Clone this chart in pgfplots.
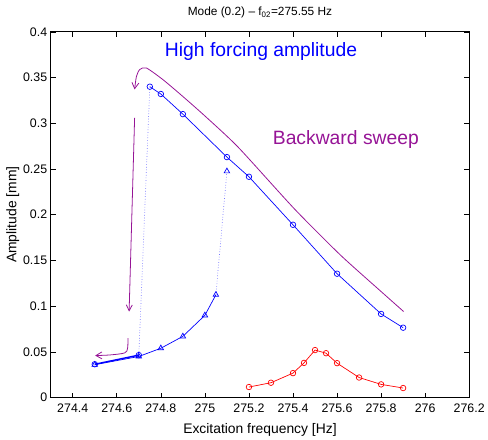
\documentclass[border=0pt]{standalone}
\usepackage{fontspec}
\setmainfont{Liberation Sans}
\usepackage{pgfplots}
\pgfplotsset{compat=1.18}
\usetikzlibrary{arrows.meta}
\definecolor{sweep}{RGB}{150,20,150}
\definecolor{dotblue}{RGB}{120,120,255}

\begin{document}
\begin{tikzpicture}
\begin{axis}[
  scale only axis, width=421bp, height=368bp,
  xmin=274.3, xmax=276.2, ymin=0, ymax=0.4,
  xtick={274.4,274.6,274.8,275,275.2,275.4,275.6,275.8,276,276.2},
  xticklabels={274.4,274.6,274.8,275,275.2,275.4,275.6,275.8,276,276.2},
  ytick={0,0.05,0.1,0.15,0.2,0.25,0.3,0.35,0.4},
  yticklabels={0,0.05,0.1,0.15,0.2,0.25,0.3,0.35,0.4},
  tick align=inside, tick pos=both, major tick length=5bp,
  axis line style={line width=0.8pt}, every tick/.style={black, line width=0.6pt},
  tick label style={font=\fontsize{12.5}{14}\selectfont},
  xticklabel style={yshift=-3bp},
  label style={font=\fontsize{14}{16}\selectfont},
  xlabel={Excitation frequency [Hz]}, ylabel={Amplitude [mm]},
  title={Mode (0.2) -- f\textsubscript{02}=275.55 Hz},
  title style={font=\fontsize{12}{14}\selectfont, at={(0.5,1)}, anchor=south, yshift=4bp},
  xlabel style={yshift=-4bp}, ylabel style={yshift=-3bp},
  clip=false
]
% backward sweep, circles
\addplot[blue, line width=0.7pt, mark=o, mark size=2.8pt] coordinates {
 (275.9,0.0765) (275.8,0.0915) (275.6,0.1355) (275.4,0.189) (275.2,0.2415)
 (275.1,0.263) (274.9,0.310) (274.8,0.332) (274.75,0.340)};
\addplot[dotblue, dotted, line width=0.7pt] coordinates {(274.75,0.340) (274.7,0.046)};
\addplot[blue, line width=1.4pt, mark=o, mark size=2.8pt, mark options={line width=0.7pt}] coordinates {
 (274.7,0.0465) (274.5,0.0365)};
% forward sweep, triangles
\addplot[blue, line width=0.7pt, mark=triangle, mark size=3.2pt] coordinates {
 (274.5,0.036) (274.7,0.045) (274.8,0.054) (274.9,0.067) (275.0,0.090) (275.05,0.1125)};
\addplot[dotblue, dotted, line width=0.7pt] coordinates {(275.05,0.1125) (275.1,0.2475)};
\addplot[blue, only marks, mark=triangle, mark size=3.2pt, mark options={line width=0.7pt}] coordinates {(275.1,0.2475)};
% low forcing amplitude
\addplot[red, line width=0.7pt, mark=o, mark size=2.8pt] coordinates {
 (275.2,0.0116) (275.3,0.0163) (275.4,0.0268) (275.45,0.038) (275.5,0.052)
 (275.55,0.0486) (275.6,0.0377) (275.7,0.022) (275.8,0.0145) (275.9,0.0105)};
% sweep direction arrows
\addplot[sweep, line width=0.8pt, smooth, tension=0.4, -{Straight Barb[length=6bp,width=7bp]}] coordinates {
 (275.902,0.0942) (275.8,0.116) (275.615,0.156) (275.406,0.2065) (275.152,0.2736)
 (275.0,0.308) (274.898,0.3297) (274.808,0.348) (274.734,0.3605) (274.704,0.3587)
 (274.689,0.351) (274.681,0.337)};
\addplot[sweep, line width=0.8pt, -{Straight Barb[length=6bp,width=6bp]}] coordinates {
 (274.681,0.306) (274.656,0.094)};
\addplot[sweep, line width=0.8pt, smooth, -{Straight Barb[length=6bp,width=7bp]}] coordinates {
 (274.651,0.0652) (274.649,0.054) (274.636,0.0489) (274.57,0.0467) (274.502,0.046)};
\node[blue, font=\fontsize{19.5}{22}\selectfont] at (axis cs:275.255,0.378) {High forcing amplitude};
\node[sweep, font=\fontsize{19.5}{22}\selectfont] at (axis cs:275.64,0.282) {Backward sweep};
\end{axis}
\path (current axis.south west) ++(-51bp,-36bp);
\path (current axis.north east) ++(16bp,32bp);
\end{tikzpicture}
\end{document}
